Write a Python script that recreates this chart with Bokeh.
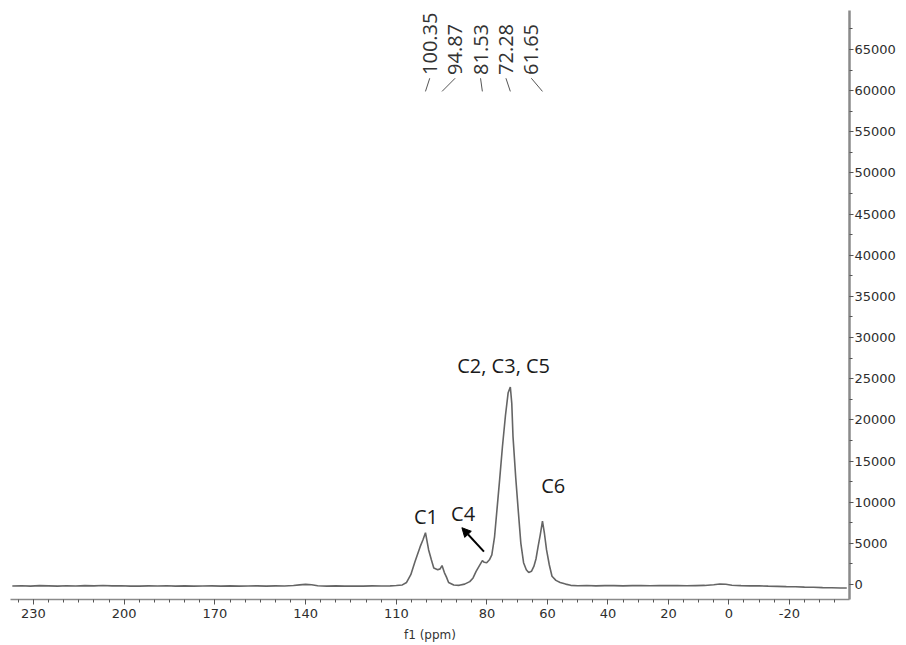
from math import pi

from bokeh.plotting import figure
from bokeh.models import Range1d, LinearAxis, FixedTicker, Arrow, NormalHead
from bokeh.core.properties import value
from bokeh.embed import file_html
from bokeh.resources import INLINE

# ---- spectrum (13C CP/MAS) ----
ppm = [237, 234, 231, 228, 225, 222, 219, 216, 213, 210, 207, 204, 201, 198,
       195, 192, 189, 186, 183, 180, 177, 174, 171, 168, 165, 162, 159, 156,
       153, 150, 147, 144, 142, 140, 138, 136, 133, 130, 127, 124, 121, 118,
       115, 112, 110, 108, 106.6, 105.2, 103.8, 102.1, 101.2, 100.35, 99.3,
       98.4, 97.6, 96.3, 95.5, 94.87, 94.1, 93.4, 92.7, 91, 89.2, 87.4, 85.7,
       84.6, 83.6, 82.5, 81.53, 80.9, 80.1, 79.2, 78.4, 77.5, 76.7, 75.8, 74.9,
       73.9, 73.0, 72.28, 71.8, 71.4, 70.5, 69.6, 68.8, 67.9, 67.0, 66.2, 65.3,
       64.5, 63.8, 63.1, 62.4, 61.65, 61.0, 60.3, 59.4, 58.5, 57.2, 55.8, 54,
       52.3, 50, 47, 44, 41, 38, 35, 32, 29, 26, 23, 20, 17, 14, 11, 8, 5, 3, 1,
       -1, -4, -7, -10, -13, -16, -19, -22, -25, -28, -31, -34, -37, -39]
intensity = [-180, -150, -190, -140, -170, -200, -150, -180, -130, -160, -120,
             -170, -150, -190, -200, -160, -180, -150, -190, -170, -200, -180,
             -160, -190, -170, -200, -180, -160, -190, -170, -180, -120, -40,
             20, -30, -150, -190, -170, -200, -180, -190, -170, -180, -160,
             -120, -50, 250, 1200, 2800, 4600, 5400, 6300, 4200, 3000, 2000,
             1800, 1900, 2300, 1450, 900, 250, -50, -100, 50, 350, 800, 1600,
             2300, 2900, 2700, 2650, 3000, 3600, 5800, 9100, 12800, 16700,
             20500, 23300, 24000, 22000, 18000, 13000, 8700, 5000, 2650, 1800,
             1450, 1600, 2200, 3100, 4600, 6000, 7700, 6200, 4200, 2400, 1000,
             500, 250, 50, -100, -150, -120, -160, -140, -130, -160, -140,
             -120, -150, -130, -140, -120, -150, -130, -110, -20, 60, 30, -80,
             -140, -170, -160, -200, -230, -260, -280, -320, -330, -380, -400,
             -430, -420]

x_tick_values = [230, 200, 170, 140, 110, 80, 60, 40, 20, 0, -20]
x_tick_labels = ["230", "200", "170", "140", "110", "80", "60", "40", "20", "0", "-20"]
y_tick_values = [0, 5000, 10000, 15000, 20000, 25000, 30000, 35000, 40000,
                 45000, 50000, 55000, 60000, 65000]

peak_ppm = [100.35, 94.87, 81.53, 72.28, 61.65]
peak_text = ["100.35", "94.87", "81.53", "72.28", "61.65"]

assign_text = ["C1", "C4", "C2, C3, C5", "C6"]
assign_ppm = [100.2, 87.9, 74.5, 58.1]
assign_y = [8250, 8600, 26560, 12000]

p = figure(width=904, height=644,
           x_range=Range1d(237.6, -39.9), y_range=Range1d(-1820, 69730),
           output_backend="svg", toolbar_location=None,
           x_axis_location=None, y_axis_location=None,
           min_border_left=10, min_border_top=10,
           min_border_right=55, min_border_bottom=44)
p.outline_line_color = None
p.xgrid.visible = False
p.ygrid.visible = False
p.background_fill_color = "white"
p.border_fill_color = "white"

xaxis = LinearAxis(
    ticker=FixedTicker(ticks=x_tick_values, minor_ticks=list(range(-40, 240, 5))),
    major_label_overrides={v: s for v, s in zip(x_tick_values, x_tick_labels)},
    axis_label="f1 (ppm)")
xaxis.axis_line_color = "#8a8a8a"
xaxis.axis_line_width = 1.5
xaxis.major_tick_in = 0
xaxis.major_tick_out = 5
xaxis.minor_tick_in = 0
xaxis.minor_tick_out = 3
xaxis.major_tick_line_color = "#555555"
xaxis.minor_tick_line_color = "#555555"
xaxis.major_label_text_font = "DejaVu Sans"
xaxis.major_label_text_font_size = "13px"
xaxis.major_label_text_color = "#2e2e2e"
xaxis.major_label_standoff = 4
xaxis.axis_label_text_font = "DejaVu Sans"
xaxis.axis_label_text_font_size = "12px"
xaxis.axis_label_text_font_style = "normal"
xaxis.axis_label_text_color = "#333333"
xaxis.axis_label_standoff = 7
p.add_layout(xaxis, "below")

yaxis = LinearAxis(
    ticker=FixedTicker(ticks=y_tick_values, minor_ticks=list(range(0, 70000, 2500))),
    axis_label=None, axis_label_standoff=0)
yaxis.axis_line_color = "#8a8a8a"
yaxis.axis_line_width = 2.5
yaxis.major_tick_in = 0
yaxis.major_tick_out = 4
yaxis.minor_tick_in = 0
yaxis.minor_tick_out = 3
yaxis.major_tick_line_color = "#555555"
yaxis.minor_tick_line_color = "#555555"
yaxis.major_label_text_font = "DejaVu Sans"
yaxis.major_label_text_font_size = "13px"
yaxis.major_label_text_color = "#2e2e2e"
yaxis.major_label_standoff = 1
p.add_layout(yaxis, "right")

# spectrum
p.line(ppm, intensity, line_color="#656565", line_width=1.6)

# peak picking labels (spread evenly around the mean position)
center = sum(peak_ppm) / len(peak_ppm)
label_x = [center + (len(peak_ppm) // 2 - i) * 8.4 for i in range(len(peak_ppm))]
p.text(x=label_x, y=[61900] * len(peak_ppm), text=peak_text, angle=pi / 2,
       text_align="left", text_baseline="middle",
       text_font=value("Open Sans"), text_font_size="20px", text_color="#333333")
p.segment(x0=label_x, y0=[61500] * len(peak_ppm), x1=peak_ppm,
          y1=[59900] * len(peak_ppm), line_color="#555555", line_width=1)

# assignments
p.text(x=assign_ppm, y=assign_y, text=assign_text,
       text_align="center", text_baseline="middle",
       text_font=value("Open Sans"), text_font_size="20px", text_color="#1a1a1a")

p.add_layout(Arrow(end=NormalHead(size=9, fill_color="black", line_color="black"),
                   x_start=81.0, y_start=4000, x_end=88.3, y_end=6900,
                   line_width=2, line_color="black"))

open("out.html", "w").write(file_html(p, INLINE))
